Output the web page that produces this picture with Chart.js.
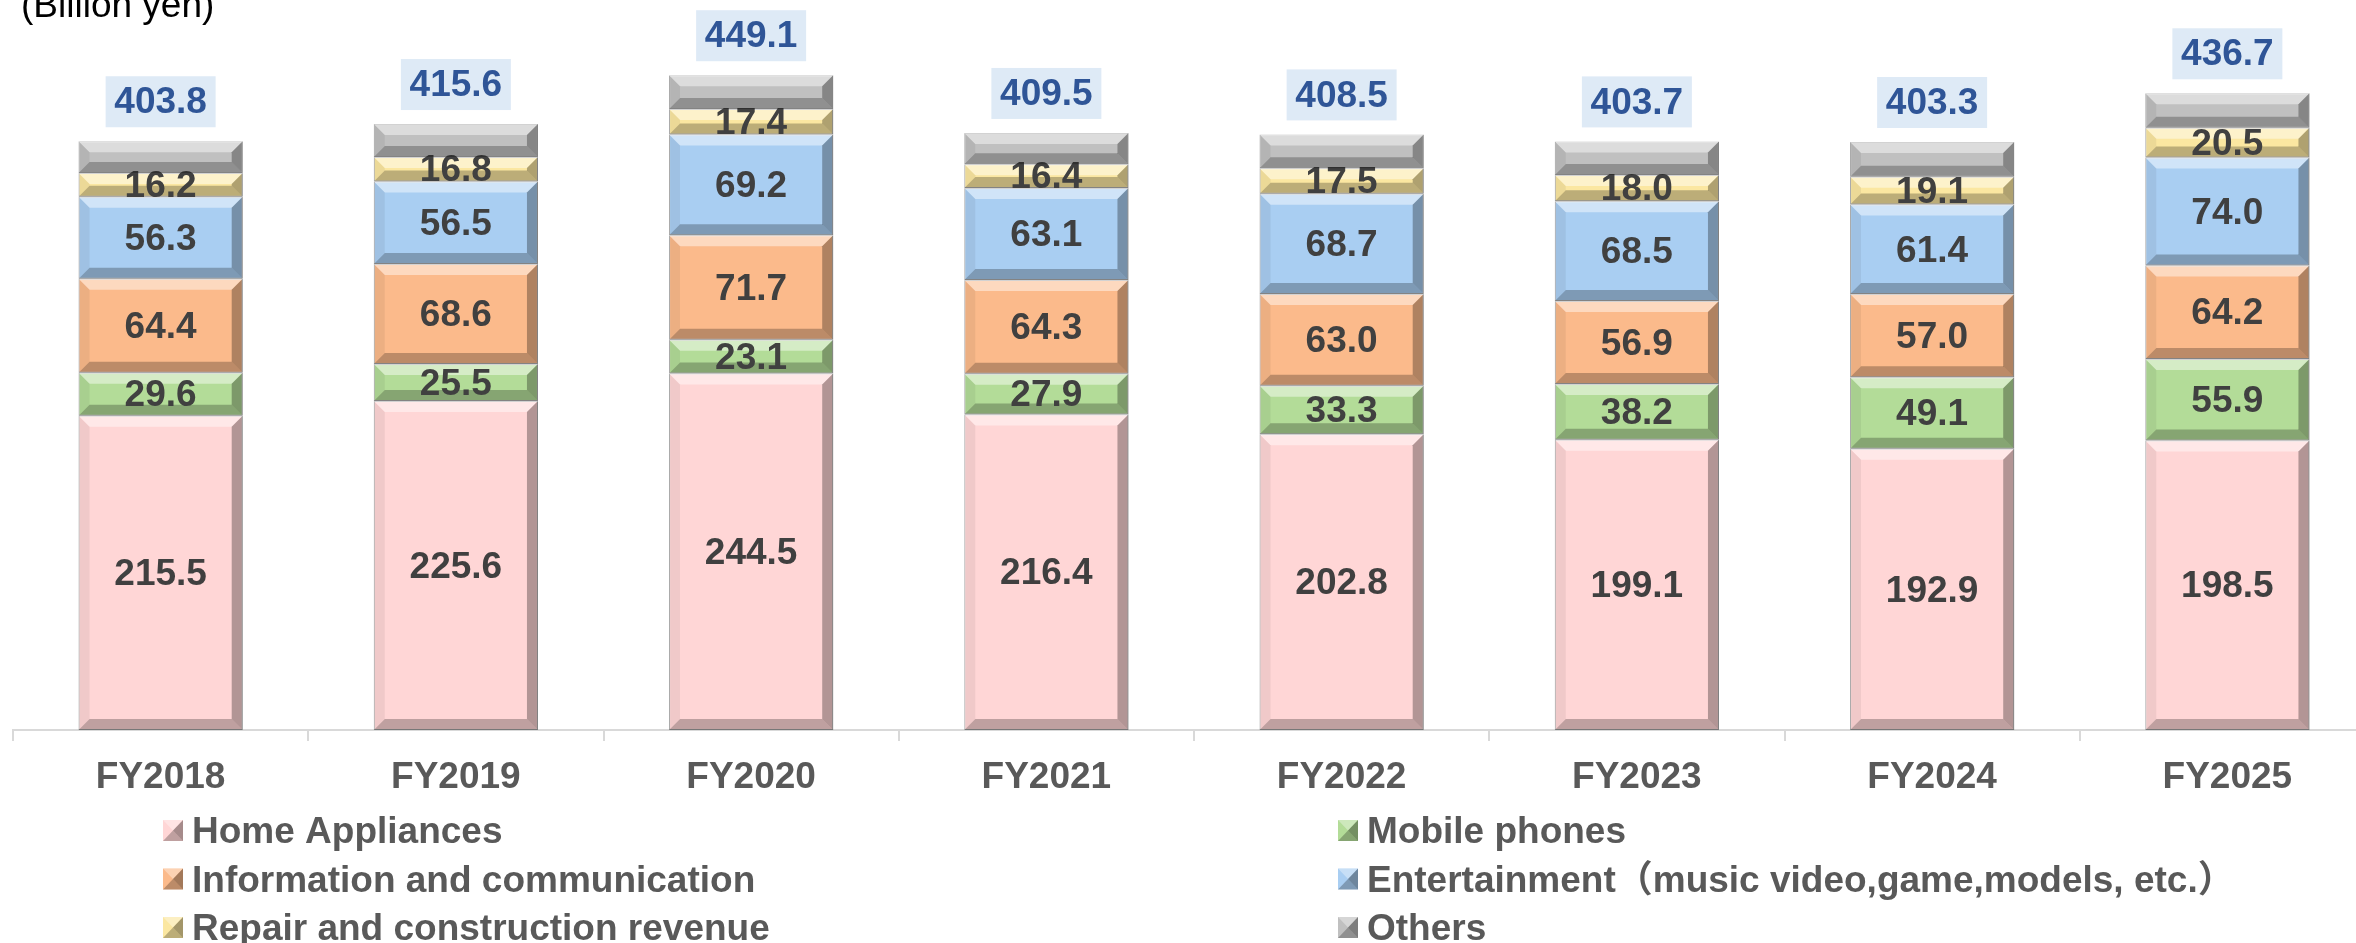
<!DOCTYPE html>
<html>
<head>
<meta charset="utf-8">
<script src="https://cdn.jsdelivr.net/npm/chart.js@4.4.0/dist/chart.umd.min.js"></script>
<style>
  html, body { margin: 0; padding: 0; background: #fff; overflow: hidden; }
  canvas { display: block; }
</style>
</head>
<body>
<canvas id="sales" width="2375" height="943"></canvas>
<script>
// categories + series (billion yen), bottom of the stack first
const years = ['FY2018', 'FY2019', 'FY2020', 'FY2021', 'FY2022', 'FY2023', 'FY2024', 'FY2025'];
const homeAppliances = [215.5, 225.6, 244.5, 216.4, 202.8, 199.1, 192.9, 198.5];
const mobilePhones = [29.6, 25.5, 23.1, 27.9, 33.3, 38.2, 49.1, 55.9];
const infoComm = [64.4, 68.6, 71.7, 64.3, 63.0, 56.9, 57.0, 64.2];
const entertainment = [56.3, 56.5, 69.2, 63.1, 68.7, 68.5, 61.4, 74.0];
const repair = [16.2, 16.8, 17.4, 16.4, 17.5, 18.0, 19.1, 20.5];
const others = [21.8, 22.6, 23.2, 21.4, 23.2, 23.0, 23.8, 23.6];
const totals = [403.8, 415.6, 449.1, 409.5, 408.5, 403.7, 403.3, 436.7];

const FONT = "'Liberation Sans', Arial, 'Noto Sans CJK JP', sans-serif";

function poly(ctx, pts, fill) {
  ctx.beginPath();
  ctx.moveTo(pts[0][0], pts[0][1]);
  for (let k = 1; k < pts.length; k++) ctx.lineTo(pts[k][0], pts[k][1]);
  ctx.closePath();
  ctx.fillStyle = fill;
  ctx.fill();
}

// bevel look + value labels on the bars
const barDecor = {
  id: 'barDecor',
  afterDatasetsDraw(chart) {
    const ctx = chart.ctx;
    ctx.save();
    chart.data.datasets.forEach((ds, i) => {
      chart.getDatasetMeta(i).data.forEach((bar, j) => {
        const x0 = bar.x - bar.width / 2, x1 = bar.x + bar.width / 2;
        const y0 = Math.min(bar.y, bar.base), y1 = Math.max(bar.y, bar.base);
        const b = Math.min(11, (y1 - y0) / 2);
        poly(ctx, [[x0, y0], [x1, y0], [x1 - b, y0 + b], [x0 + b, y0 + b]], 'rgba(255,255,255,0.45)');
        poly(ctx, [[x0, y0], [x0 + b, y0 + b], [x0 + b, y1 - b], [x0, y1]], 'rgba(0,0,0,0.06)');
        poly(ctx, [[x1, y0], [x1, y1], [x1 - b, y1 - b], [x1 - b, y0 + b]], 'rgba(0,0,0,0.3)');
        poly(ctx, [[x0, y1], [x0 + b, y1 - b], [x1 - b, y1 - b], [x1, y1]], 'rgba(0,0,0,0.25)');
        if (ds.showLabel) {
          ctx.font = 'bold 37px ' + FONT;
          ctx.fillStyle = '#404040';
          ctx.textAlign = 'center';
          ctx.textBaseline = 'middle';
          ctx.fillText(ds.data[j].toFixed(1), bar.x, (y0 + y1) / 2 + 2);
        }
      });
    });

    // totals above each bar
    const topMeta = chart.getDatasetMeta(chart.data.datasets.length - 1);
    topMeta.data.forEach((bar, j) => {
      const yTop = Math.min(bar.y, bar.base);
      ctx.fillStyle = '#DEEAF6';
      ctx.fillRect(bar.x - 55, yTop - 65, 110, 51);
      ctx.font = 'bold 37px ' + FONT;
      ctx.fillStyle = '#2F5597';
      ctx.textAlign = 'center';
      ctx.textBaseline = 'middle';
      ctx.fillText(totals[j].toFixed(1), bar.x, yTop - 38);
    });
    ctx.restore();
  },
  afterDraw(chart) {
    const ctx = chart.ctx;
    ctx.save();
    // unit note
    ctx.font = '37px ' + FONT;
    ctx.fillStyle = '#000';
    ctx.textAlign = 'left';
    ctx.textBaseline = 'alphabetic';
    ctx.fillText('(Billion yen)', 21, 17);

    // legend in two columns
    chart.data.datasets.forEach((ds, i) => {
      const col = i % 2, row = Math.floor(i / 2);
      const boxX = col ? 1338 : 163;
      const textX = col ? 1367 : 192;
      const base = 843 + row * 48.5;
      ctx.fillStyle = ds.backgroundColor;
      ctx.fillRect(boxX, base - 23, 20, 21);
      poly(ctx, [[boxX, base - 23], [boxX + 20, base - 23], [boxX + 10, base - 12.5]], 'rgba(255,255,255,0.35)');
      poly(ctx, [[boxX + 20, base - 23], [boxX + 20, base - 2], [boxX + 10, base - 12.5]], 'rgba(0,0,0,0.35)');
      poly(ctx, [[boxX, base - 2], [boxX + 20, base - 2], [boxX + 10, base - 12.5]], 'rgba(0,0,0,0.25)');
      ctx.font = 'bold 37px ' + FONT;
      ctx.fillStyle = '#595959';
      ctx.textAlign = 'left';
      ctx.textBaseline = 'alphabetic';
      ctx.fillText(ds.label, textX, base);
    });
    ctx.restore();
  }
};

function series(label, data, color, showLabel) {
  return {
    label: label,
    data: data,
    backgroundColor: color,
    borderColor: 'rgba(120,120,120,0.6)',
    borderWidth: 1,
    borderSkipped: false,
    showLabel: showLabel
  };
}

const ctx = document.getElementById('sales').getContext('2d');

new Chart(ctx, {
  type: 'bar',
  data: {
    labels: years,
    datasets: [
      series('Home Appliances', homeAppliances, '#FFD6D6', true),
      series('Mobile phones', mobilePhones, '#B3DC98', true),
      series('Information and communication', infoComm, '#FBBA8B', true),
      series('Entertainment（music video,game,models, etc.）', entertainment, '#A9CEF2', true),
      series('Repair and construction revenue', repair, '#FBE7A1', true),
      series('Others', others, '#C0C0C0', false)
    ]
  },
  options: {
    responsive: false,
    devicePixelRatio: 1,
    animation: false,
    layout: { padding: { top: 1, left: 13, right: 0, bottom: 0 } },
    datasets: {
      bar: { categoryPercentage: 0.556, barPercentage: 1 }
    },
    plugins: {
      legend: { display: false },
      tooltip: { enabled: false }
    },
    scales: {
      x: {
        stacked: true,
        border: { display: true, color: '#D9D9D9', width: 2 },
        grid: {
          display: true,
          drawOnChartArea: false,
          drawTicks: true,
          tickLength: 11,
          color: '#D9D9D9',
          lineWidth: 2,
          offset: true
        },
        ticks: {
          color: '#595959',
          font: { family: FONT, size: 37, weight: 'bold' },
          padding: 15,
          maxRotation: 0
        },
        afterFit(scale) { scale.height = 213; }
      },
      y: {
        stacked: true,
        display: false,
        min: 0,
        max: 500
      }
    }
  },
  plugins: [barDecor]
});
</script>
</body>
</html>
